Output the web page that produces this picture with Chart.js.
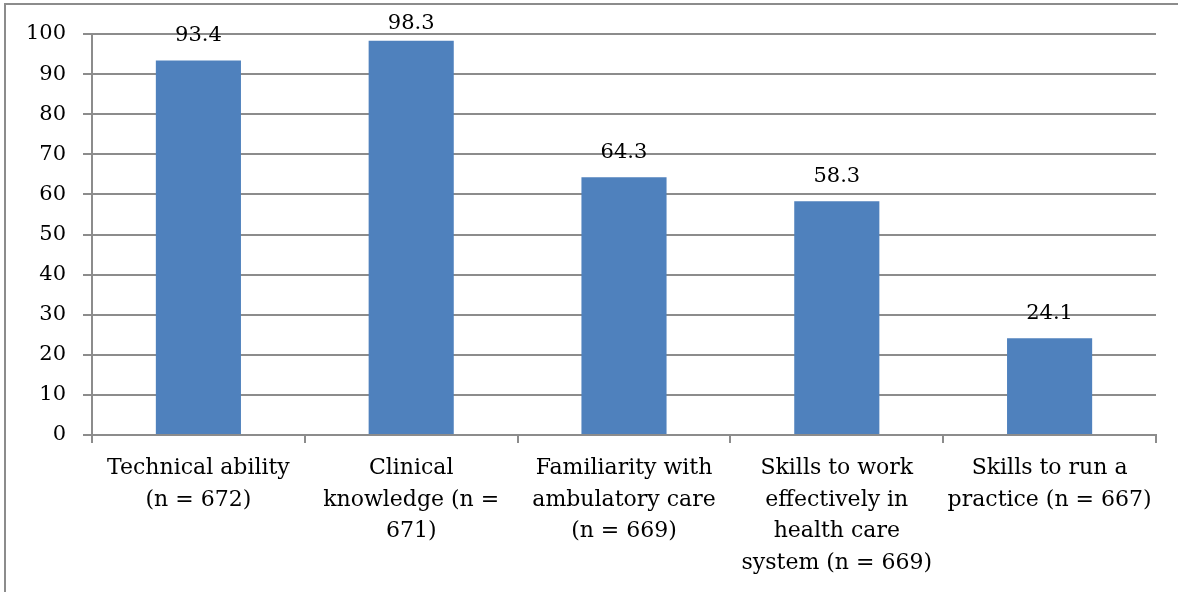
<!DOCTYPE html>
<html>
<head>
<meta charset="utf-8">
<script src="https://cdn.jsdelivr.net/npm/chart.js@4.4.0/dist/chart.umd.min.js"></script>
<style>
  html, body { margin: 0; padding: 0; background: #fff; overflow: hidden; }
  .chart-container { position: relative; width: 1178px; height: 592px; }
</style>
</head>
<body>
<div class="chart-container"><canvas id="skillsChart"></canvas></div>
<script>
// Dati del grafico
const categories = [
    ['Technical ability', '(n = 672)'],
    ['Clinical', 'knowledge (n =', '671)'],
    ['Familiarity with', 'ambulatory care', '(n = 669)'],
    ['Skills to work', 'effectively in', 'health care', 'system (n = 669)'],
    ['Skills to run a', 'practice (n = 667)']
];
const percentages = [93.4, 98.3, 64.3, 58.3, 24.1];
const yTicks = [0, 10, 20, 30, 40, 50, 60, 70, 80, 90, 100];

const FONT = 'DejaVu Serif';
const GRID = '#8c8c8c';

// Cornice esterna (solo lati sinistro e superiore visibili)
const framePlugin = {
    id: 'frame',
    beforeDraw(chart) {
        const ctx = chart.ctx;
        ctx.save();
        ctx.strokeStyle = '#8c8c8c';
        ctx.lineWidth = 2;
        ctx.beginPath();
        ctx.moveTo(5, 600);
        ctx.lineTo(5, 4);
        ctx.lineTo(1200, 4);
        ctx.stroke();
        ctx.restore();
    }
};

// Etichette dei valori sopra le barre
const valueLabels = {
    id: 'valueLabels',
    afterDatasetsDraw(chart) {
        const ctx = chart.ctx;
        const meta = chart.getDatasetMeta(0);
        ctx.save();
        ctx.font = '21px "' + FONT + '"';
        ctx.fillStyle = '#000';
        ctx.textAlign = 'center';
        ctx.textBaseline = 'middle';
        meta.data.forEach((bar, i) => {
            const y = Math.max(bar.y - 25, 24);
            ctx.fillText(percentages[i].toFixed(1), bar.x, y);
        });
        ctx.restore();
    }
};

const ctx = document.getElementById('skillsChart').getContext('2d');
const myChart = new Chart(ctx, {
    type: 'bar',
    data: {
        labels: categories,
        datasets: [{
            data: percentages,
            backgroundColor: '#4f81bd',
            borderWidth: 0,
            categoryPercentage: 0.4,
            barPercentage: 1
        }]
    },
    options: {
        responsive: true,
        maintainAspectRatio: false,
        animation: false,
        layout: { padding: { left: 0, right: 22, top: 34, bottom: 0 } },
        plugins: {
            legend: { display: false },
            tooltip: { enabled: false }
        },
        scales: {
            y: {
                min: 0,
                max: 100,
                afterFit(scale) { scale.width = 92; },
                afterBuildTicks(scale) { scale.ticks = yTicks.map(v => ({ value: v })); },
                ticks: {
                    color: '#000',
                    padding: 17,
                    font: { family: FONT, size: 21 }
                },
                grid: { color: GRID, lineWidth: 2, tickLength: 9 },
                border: { color: GRID, width: 2 }
            },
            x: {
                afterFit(scale) { scale.height = 157; },
                ticks: {
                    color: '#000',
                    padding: 10,
                    maxRotation: 0,
                    autoSkip: false,
                    font: { family: FONT, size: 22, lineHeight: 1.43 }
                },
                grid: { display: true, drawOnChartArea: false, color: GRID, lineWidth: 2, tickLength: 8 },
                border: { color: GRID, width: 2 }
            }
        }
    },
    plugins: [framePlugin, valueLabels]
});
</script>
</body>
</html>
